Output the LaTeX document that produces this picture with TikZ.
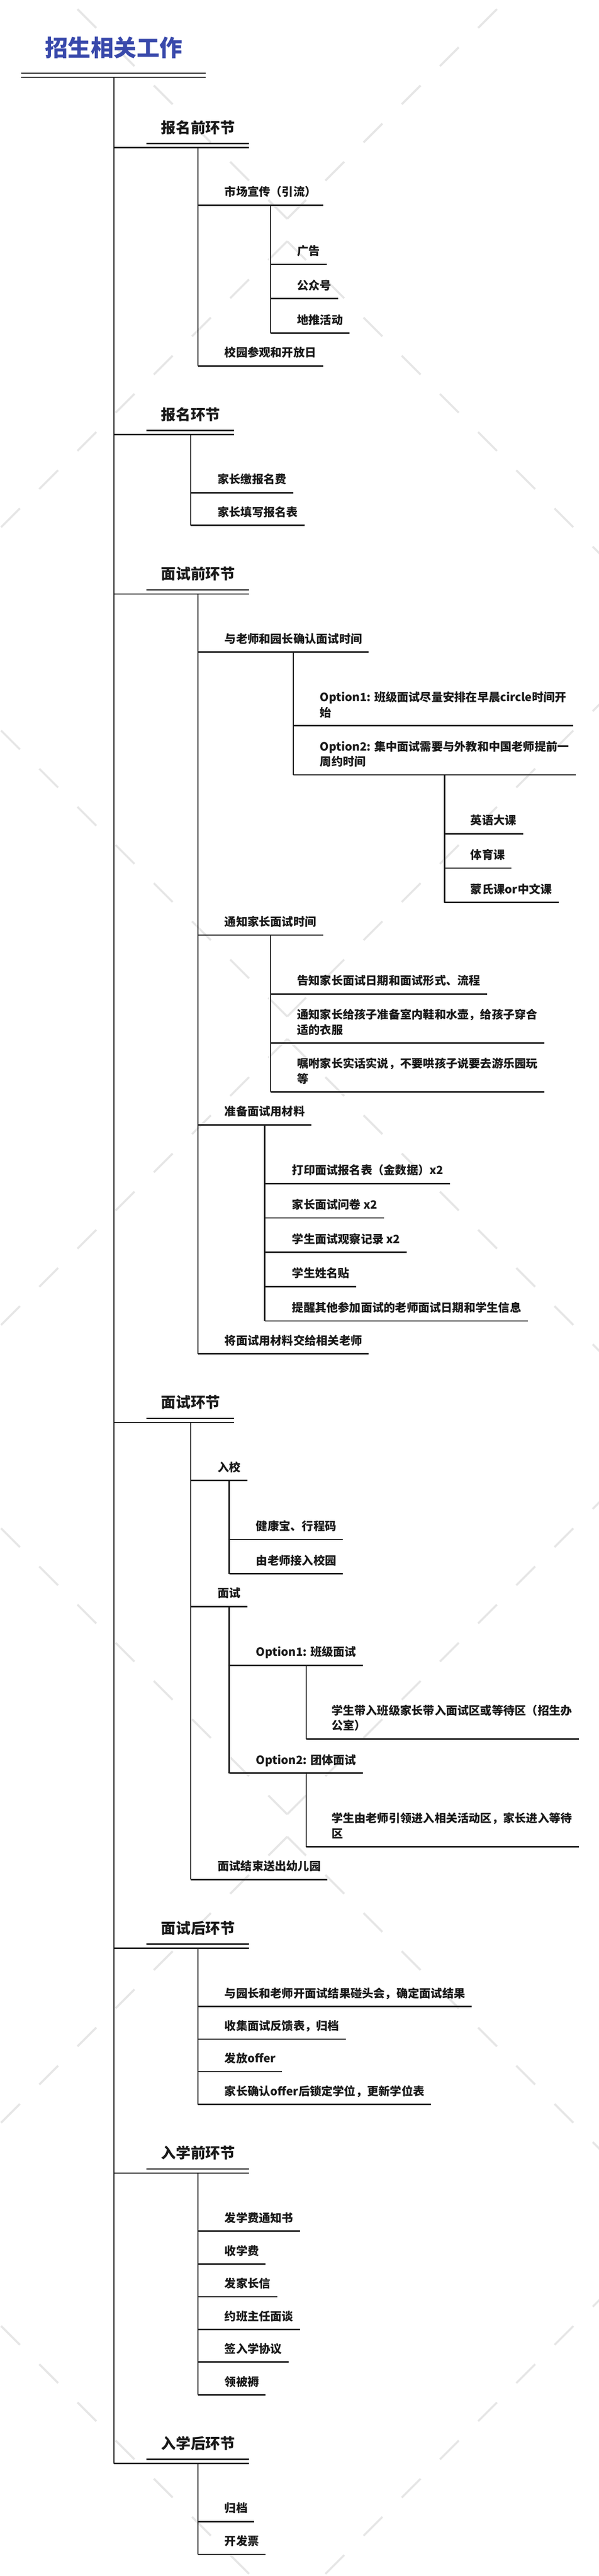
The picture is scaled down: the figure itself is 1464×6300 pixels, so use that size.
\documentclass[tikz,border=0pt]{standalone}
\usepackage{fontspec}
\setmainfont{Noto Sans CJK SC}
\usetikzlibrary{calc}
\definecolor{inkc}{HTML}{1A1A1A}
\definecolor{titlec}{HTML}{3949AB}
\definecolor{wmc}{HTML}{E6E6E6}
\newcommand\itemfont{\bfseries\fontsize{28pt}{37pt}\selectfont}
\newcommand\headfont{\bfseries\fontsize{36pt}{42pt}\selectfont}
\newcommand\titlefont{\bfseries\fontsize{56pt}{64pt}\selectfont}
\newcommand\twol[2]{\begin{tabular}[b]{@{}l@{}}#1\\#2\end{tabular}}
% heading: name, position, text
\newcommand\mkhead[3]{%
  \node[hd] (#1) at (#2) {#3};
  \coordinate (#1u) at ($(#1.base west)+(0,35.4)$);
  \draw[ul] ($(#1.base west)+(-36,25.4)$) -- ($(#1.base east)+(34,25.4)$);
  \draw[ul] (T.base |- #1u) -- ($(#1.base east)+(34,35.4)$);
}
% item: parent, name, position, text
\newcommand\mkkid[4]{%
  \node[itm] (#2) at (#3) {#4};
  \coordinate (#2u) at ($(#2.base west)+(0,22)$);
  \draw[ul] (#1.base |- #2u) -- ($(#2.base east)+(16,22)$);
}
% vertical: parent, last child, drop
\newcommand\mkvert[3]{%
  \draw[vl] ($(#1.base)+(0,#3)$) -- (#1.base |- #2u);
}
\begin{document}
\begin{tikzpicture}[x=1pt,y=-1pt,
  itm/.style={anchor=base west, inner sep=0pt, font=\itemfont, text=inkc},
  hd/.style={anchor=base west, inner sep=0pt, font=\headfont, text=inkc},
  ttl/.style={anchor=base west, inner sep=0pt, font=\titlefont, text=titlec},
  ul/.style={line width=3.5pt, draw=inkc},
  vl/.style={line width=3pt, draw=inkc},
  wm/.style={line width=5pt, draw=wmc, dash pattern=on 65pt off 67pt}]
\useasboundingbox (0,0) rectangle (1464,6300);
\fill[white] (0,0) rectangle (1464,6300);
% watermark
\begin{scope}
\clip (0,0) rectangle (1464,6300);
\foreach \c in {535,2486,4437,6388} {
  \draw[wm] (702,\c) -- ++(-800,-800);
  \draw[wm] (702,\c) -- ++(800,-800);
  \draw[wm] (702,\c+55) -- ++(-800,800);
  \draw[wm] (702,\c+55) -- ++(800,800);
}
\end{scope}
% title
\node[ttl] (T) at (110,138.4) {招生相关工作};
\draw[ul] ($(T.base west)+(-58,40.6)$) -- ($(T.base east)+(56,40.6)$);
\draw[ul] ($(T.base west)+(-58,50.6)$) -- ($(T.base east)+(56,50.6)$);
% headings
\mkhead{H1}{394,325.6}{报名前环节}
\mkhead{H2}{394,1027.3}{报名环节}
\mkhead{H3}{394,1417.3}{面试前环节}
\mkhead{H4}{394,3443.3}{面试环节}
\mkhead{H5}{394,4729.4}{面试后环节}
\mkhead{H6}{394,5279.2}{入学前环节}
\mkhead{H7}{394,5989.6}{入学后环节}
\draw[vl] ($(T.base)+(0,50.6)$) -- (T.base |- H7u);
% 报名前环节
\mkkid{H1}{A1}{549,480}{市场宣传（引流）}
\mkkid{A1}{A1a}{726,624.5}{广告}
\mkkid{A1}{A1b}{726,708.6}{公众号}
\mkkid{A1}{A1c}{726,793}{地推活动}
\mkkid{H1}{A2}{549,873}{校园参观和开放日}
\mkvert{H1}{A2}{35.4}
\mkvert{A1}{A1c}{22}
% 报名环节
\mkkid{H2}{B1}{532,1182.7}{家长缴报名费}
\mkkid{H2}{B2}{532,1263}{家长填写报名表}
\mkvert{H2}{B2}{35.4}
% 面试前环节
\mkkid{H3}{C1}{549,1573}{与老师和园长确认面试时间}
\mkkid{C1}{C1a}{782,1753}{\twol{Option1: 班级面试尽量安排在早晨circle时间开}{始}}
\mkkid{C1}{C1b}{782,1873}{\twol{Option2: 集中面试需要与外教和中国老师提前一}{周约时间}}
\mkkid{C1b}{C1b1}{1150,2017}{英语大课}
\mkkid{C1b}{C1b2}{1150,2101}{体育课}
\mkkid{C1b}{C1b3}{1150,2185}{蒙氏课or中文课}
\mkkid{H3}{C2}{549,2265}{通知家长面试时间}
\mkkid{C2}{C2a}{726,2409}{告知家长面试日期和面试形式、流程}
\mkkid{C2}{C2b}{726,2529}{\twol{通知家长给孩子准备室内鞋和水壶，给孩子穿合}{适的衣服}}
\mkkid{C2}{C2c}{726,2648.5}{\twol{嘱咐家长实话实说，不要哄孩子说要去游乐园玩}{等}}
\mkkid{H3}{C3}{549,2729}{准备面试用材料}
\mkkid{C3}{C3a}{714,2872.5}{打印面试报名表（金数据）x2}
\mkkid{C3}{C3b}{714,2956.5}{家长面试问卷 x2}
\mkkid{C3}{C3c}{714,3040.6}{学生面试观察记录 x2}
\mkkid{C3}{C3d}{714,3124.6}{学生姓名贴}
\mkkid{C3}{C3e}{714,3208.7}{提醒其他参加面试的老师面试日期和学生信息}
\mkkid{H3}{C4}{549,3288.7}{将面试用材料交给相关老师}
\mkvert{H3}{C4}{35.4}
\mkvert{C1}{C1b}{22}
\mkvert{C1b}{C1b3}{22}
\mkvert{C2}{C2c}{22}
\mkvert{C3}{C3e}{22}
% 面试环节
\mkkid{H4}{D1}{532,3599}{入校}
\mkkid{D1}{D1a}{626,3742.7}{健康宝、行程码}
\mkkid{D1}{D1b}{626,3826.8}{由老师接入校园}
\mkkid{H4}{D2}{532,3906.8}{面试}
\mkkid{D2}{D2a}{626,4050.7}{Option1: 班级面试}
\mkkid{D2a}{D2a1}{810,4230.6}{\twol{学生带入班级家长带入面试区或等待区（招生办}{公室）}}
\mkkid{D2}{D2b}{626,4314.6}{Option2: 团体面试}
\mkkid{D2b}{D2b1}{810,4494.7}{\twol{学生由老师引领进入相关活动区，家长进入等待}{区}}
\mkkid{H4}{D3}{532,4575}{面试结束送出幼儿园}
\mkvert{H4}{D3}{35.4}
\mkvert{D1}{D1b}{22}
\mkvert{D2}{D2b}{22}
\mkvert{D2a}{D2a1}{22}
\mkvert{D2b}{D2b1}{22}
% 面试后环节
\mkkid{H5}{E1}{549,4885}{与园长和老师开面试结果碰头会，确定面试结果}
\mkkid{H5}{E2}{549,4965}{收集面试反馈表，归档}
\mkkid{H5}{E3}{549,5044.5}{发放offer}
\mkkid{H5}{E4}{549,5124.5}{家长确认offer后锁定学位，更新学位表}
\mkvert{H5}{E4}{35.4}
% 入学前环节
\mkkid{H6}{F1}{549,5434.6}{发学费通知书}
\mkkid{H6}{F2}{549,5515}{收学费}
\mkkid{H6}{F3}{549,5595}{发家长信}
\mkkid{H6}{F4}{549,5675}{约班主任面谈}
\mkkid{H6}{F5}{549,5754.7}{签入学协议}
\mkkid{H6}{F6}{549,5835}{领被褥}
\mkvert{H6}{F6}{35.4}
% 入学后环节
\mkkid{H7}{G1}{549,6144.7}{归档}
\mkkid{H7}{G2}{549,6225}{开发票}
\mkvert{H7}{G2}{35.4}
\end{tikzpicture}
\end{document}
